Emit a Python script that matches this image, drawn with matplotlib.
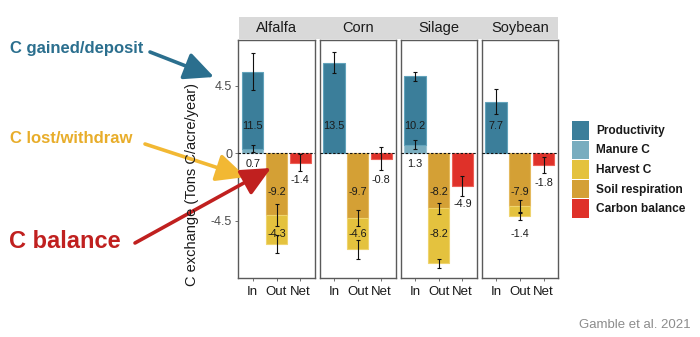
import matplotlib
matplotlib.use("Agg")
import matplotlib.pyplot as plt
from matplotlib.patches import Rectangle, FancyArrowPatch

plt.rcParams['font.family'] = ['Liberation Sans', 'DejaVu Sans']

# ---- data (Mg C / ha / yr) ----
crops = ["Alfalfa", "Corn", "Silage", "Soybean"]
flows = ["In", "Out", "Net"]

productivity = [11.5, 13.5, 10.2, 7.7]
productivity_err = [2.8, 1.55, 0.65, 1.85]
manure = [0.7, 0.0, 1.3, 0.0]
manure_err = [0.5, 0.0, 0.65, 0.0]
soil_resp = [-9.2, -9.7, -8.2, -7.9]
soil_resp_err = [1.6, 1.2, 0.8, 1.0]
harvest = [-4.3, -4.6, -8.2, -1.4]
harvest_err = [1.3, 1.4, 0.7, 0.6]
balance = [-1.4, -0.8, -4.9, -1.8]
balance_err = [1.25, 1.7, 1.5, 1.2]

# axis ticks are shown in tons C / acre / yr
tick_tons = [4.5, 0.0, -4.5]
MGHA_PER_TONAC = 2.2417

legend_names = ["Productivity", "Manure C", "Harvest C", "Soil respiration", "Carbon balance"]

# ---- styling ----
C_PROD, E_PROD = "#3b7e9a", "#62a3bb"
C_MAN, E_MAN = "#79adbf", "#9cc4d2"
C_HARV, E_HARV = "#e4c23e", "#efd46e"
C_RESP, E_RESP = "#d4a035", "#e4b95e"
C_BAL, E_BAL = "#df3129", "#ee6057"
legend_colors = [C_PROD, C_MAN, C_HARV, C_RESP, C_BAL]

W, H = 700, 337
fig = plt.figure(figsize=(W / 100, H / 100), dpi=100)
fig.patch.set_facecolor("white")


def fx(x):
    return x / W


def fy(y):
    return 1 - y / H


panel_top, panel_bot = 40.0, 278.0
panel_w, panel_step, panel_x0 = 76.0, 81.1, 238.5
ylo, yhi = -18.6, 16.9
bw = 0.9
err_kw = dict(ecolor="#111111", elinewidth=0.8, capsize=1.2, capthick=0.8, fmt="none", zorder=4)
lab_kw = dict(ha="center", va="center", fontsize=7.8, color="#1a1a1a", zorder=5)

# facet strip (one continuous band)
strip = Rectangle((fx(239), fy(39.3)), fx(558) - fx(239), fy(16.7) - fy(39.3),
                  transform=fig.transFigure, facecolor="#d9d9d9", edgecolor="none")
fig.add_artist(strip)

for i, crop in enumerate(crops):
    left = panel_x0 + i * panel_step
    ax = fig.add_axes([fx(left), fy(panel_bot), panel_w / W, (panel_bot - panel_top) / H])
    ax.set_xlim(0.4, 3.6)
    ax.set_ylim(ylo, yhi)

    # In: manure at the bottom, productivity stacked on top
    if manure[i] > 0:
        ax.bar(1, manure[i], width=bw, color=C_MAN, edgecolor=E_MAN, linewidth=0.8)
    ax.bar(1, productivity[i], bottom=manure[i], width=bw, color=C_PROD,
           edgecolor=E_PROD, linewidth=0.8)
    # Out: soil respiration, then harvest below it
    ax.bar(2, soil_resp[i], width=bw, color=C_RESP, edgecolor=E_RESP, linewidth=0.8)
    ax.bar(2, harvest[i], bottom=soil_resp[i], width=bw, color=C_HARV,
           edgecolor=E_HARV, linewidth=0.8)
    # Net
    ax.bar(3, balance[i], width=bw, color=C_BAL, edgecolor=E_BAL, linewidth=0.8)

    # error bars
    top_in = productivity[i] + manure[i]
    ax.errorbar(1, top_in, yerr=productivity_err[i], **err_kw)
    if manure[i] > 0:
        ax.errorbar(1, manure[i], yerr=manure_err[i], **err_kw)
    ax.errorbar(2, soil_resp[i], yerr=soil_resp_err[i], **err_kw)
    ax.errorbar(2, soil_resp[i] + harvest[i], yerr=harvest_err[i], **err_kw)
    ax.errorbar(3, balance[i], yerr=balance_err[i], **err_kw)

    # value labels
    ax.text(1, 4.0, f"{productivity[i]:.1f}", **lab_kw)
    if manure[i] > 0:
        ax.text(1, -1.6, f"{manure[i]:.1f}", **lab_kw)
    ax.text(2, -5.7, f"{soil_resp[i]:.1f}", **lab_kw)
    ax.text(2, -12.0, f"{harvest[i]:.1f}", **lab_kw)
    ax.text(3, min(-4.05, balance[i] - 2.6), f"{balance[i]:.1f}", **lab_kw)

    # zero line
    ax.axhline(0, color="#111111", lw=0.8, ls=(0, (2.2, 1.6)), zorder=3)

    for s in ax.spines.values():
        s.set_color("#5a5a5a")
        s.set_linewidth(1.0)
    ax.set_xticks([1, 2, 3])
    ax.set_xticklabels(flows, fontsize=9.5, color="#1a1a1a")
    ax.tick_params(axis="x", length=2.5, width=0.6, color="#5a5a5a", pad=3)
    if i == 0:
        ax.set_yticks([t * MGHA_PER_TONAC for t in tick_tons])
        ax.set_yticklabels([f"{t:g}" for t in tick_tons], fontsize=9, color="#4d4d4d")
        ax.tick_params(axis="y", length=2.5, width=0.6, color="#5a5a5a", pad=2)
    else:
        ax.set_yticks([])

    # strip label
    fig.text(fx(left + panel_w / 2), fy(28.0), crop, ha="center", va="center",
             fontsize=10.5, color="#1a1a1a")

# y-axis title
fig.text(fx(192), fy(185), "C exchange (Tons C/acre/year)", rotation=90,
         ha="center", va="center", fontsize=10.5, color="#1a1a1a")

# legend
for k, (name, col) in enumerate(zip(legend_names, legend_colors)):
    ytop = 121 + k * 19.6
    fig.add_artist(Rectangle((fx(572), fy(ytop + 18.6)), 17 / W, 18.6 / H,
                             transform=fig.transFigure, facecolor=col, edgecolor="none"))
    fig.text(fx(596), fy(ytop + 9.8), name, ha="left", va="center",
             fontsize=8.6, fontweight="bold", color="#1a1a1a")

# callouts on the left
fig.text(fx(10), fy(49), "C gained/deposit", ha="left", va="center",
         fontsize=12, fontweight="bold", color="#2b6f8e")
fig.text(fx(10), fy(139), "C lost/withdraw", ha="left", va="center",
         fontsize=12, fontweight="bold", color="#e8ad2a")
fig.text(fx(9), fy(242), "C balance", ha="left", va="center",
         fontsize=17, fontweight="bold", color="#c0201f")

arrows = [((150, 52), (214, 77), "#2b6f8e"),
          ((145, 144), (246, 177), "#f2b833"),
          ((135, 243), (271, 168), "#c0201f")]
for (x0, y0), (x1, y1), col in arrows:
    fig.add_artist(FancyArrowPatch((fx(x0), fy(y0)), (fx(x1), fy(y1)),
                                   transform=fig.transFigure,
                                   arrowstyle="-|>,head_length=18,head_width=8.5",
                                   mutation_scale=1, lw=2.6, color=col,
                                   shrinkA=0, shrinkB=0))

fig.text(fx(691), fy(325), "Gamble et al. 2021", ha="right", va="center",
         fontsize=9.5, color="#8c8c8c")

fig.savefig("out.png", dpi=100)
